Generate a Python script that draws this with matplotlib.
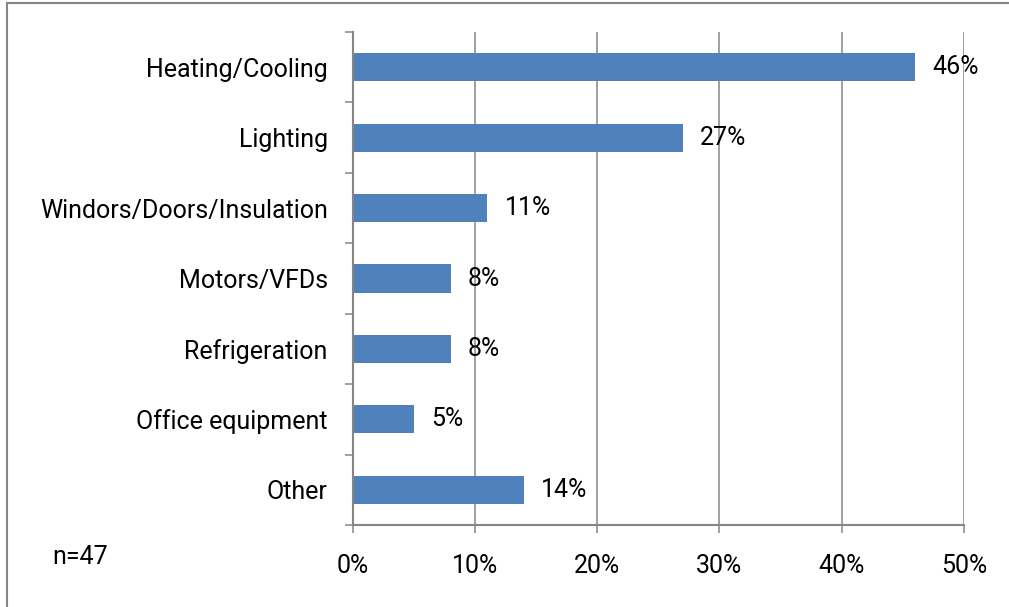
import matplotlib.pyplot as plt
from matplotlib.patches import Rectangle

plt.rcParams['font.family'] = ['Roboto', 'DejaVu Sans']

# 各类别占比（从上到下）
categories = ['Heating/Cooling', 'Lighting', 'Windors/Doors/Insulation',
              'Motors/VFDs', 'Refrigeration', 'Office equipment', 'Other']
values = [46, 27, 11, 8, 8, 5, 14]
xticks = [0, 10, 20, 30, 40, 50]
note = 'n=47'

bar_color = '#4F81BD'
gray = '#868686'
fs = 18

fig = plt.figure(figsize=(10.09, 6.07), dpi=100)
ax = fig.add_axes([352.7 / 1009, 1 - 525 / 607, (964 - 352.7) / 1009, (525 - 32) / 607])

y = list(range(len(categories)))
ax.barh(y, values, height=0.4, color=bar_color, zorder=3)
ax.set_ylim(len(categories) - 0.5, -0.5)
ax.set_xlim(0, 50)

# 数据标签
for yi, v in zip(y, values):
    ax.annotate('%d%%' % v, (v, yi), xytext=(12.5, 0), textcoords='offset points',
                ha='left', va='center', fontsize=fs, color='black', zorder=4)

# y轴：刻度在类别之间，标签在类别中心
ax.set_yticks([i - 0.5 for i in range(len(categories) + 1)])
ax.set_yticklabels([])
ax.set_yticks(y, minor=True)
ax.set_yticklabels(categories, minor=True, fontsize=fs)
ax.tick_params(axis='y', which='major', direction='out', length=5.5, width=1.1, color=gray)
ax.tick_params(axis='y', which='minor', length=0, pad=18)

ax.set_xticks(xticks)
ax.set_xticklabels(['%d%%' % t for t in xticks], fontsize=fs)
ax.tick_params(axis='x', direction='out', length=6, width=1.1, color=gray, pad=15)

ax.grid(axis='x', color=gray, linewidth=1.1, zorder=0)
for s in ['top', 'right']:
    ax.spines[s].set_visible(False)
for s in ['left', 'bottom']:
    ax.spines[s].set_color(gray)
    ax.spines[s].set_linewidth(1.5)
    ax.spines[s].set_zorder(5)

fig.text(52 / 1009, 1 - 557 / 607, note, fontsize=fs, ha='left', va='center')

# 外框
fig.patches.append(Rectangle((7 / 1009, -0.1), 1.2, 1 - 3 / 607 + 0.1,
                             transform=fig.transFigure, fill=False,
                             edgecolor=gray, linewidth=1.5))

plt.savefig('out.png', dpi=100)
